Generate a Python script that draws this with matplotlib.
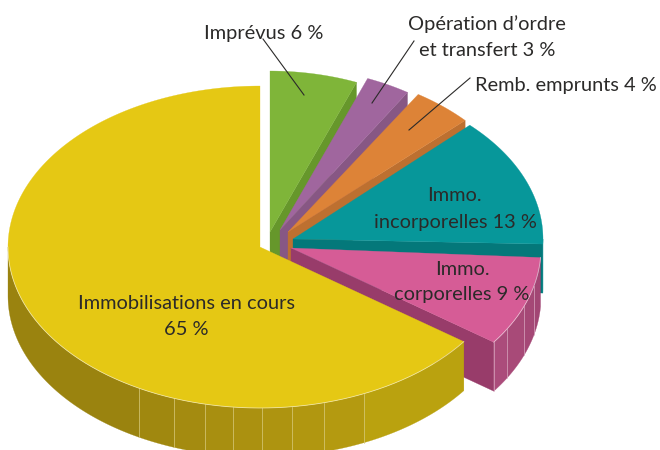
import numpy as np
import matplotlib
matplotlib.use("Agg")
import matplotlib.pyplot as plt
from matplotlib.patches import Polygon

plt.rcParams['font.family'] = ['Lato', 'DejaVu Sans']

# --- data ---
categories = ["Immobilisations en cours", "Immo. corporelles", "Immo. incorporelles",
              "Remb. emprunts", "Opération d'ordre et transfert", "Imprévus"]
values = [65, 9, 13, 4, 3, 6]

# --- geometry of the exploded slices (same order), pixels ---
apex_x = [260, 291, 293, 288, 280, 270]
apex_y = [247, 248, 239, 232, 230, 232]
rad_x = [252, 250, 250, 243, 238, 235]
rad_y = [161, 161, 161, 163, 163, 161]
turn = [0, 0.2, 1.8, 0, 0, 0]
depth = 49
start_angle = 90

top_colors = ["#E5C814", "#D65C96", "#07979A", "#DD8337", "#A0669E", "#7FB539"]
cut_colors = ["#9A830F", "#983C6A", "#04787A", "#BD7030", "#875784", "#66972B"]

# rim facet boundaries, given by their x pixel
yellow_facets_x = [8, 139, 174, 205, 233, 262, 292, 324, 364, 463]
yellow_facet_colors = ["#9A830F", "#A0880F", "#A48B10", "#A88F10", "#AB9110", "#AE9410",
                       "#B19710", "#B49A10", "#BAA20F"]
pink_facets_x = [493, 507, 524, 534, 541]
pink_facet_colors = ["#AB4C7B", "#A84A78", "#A54876", "#A24674"]
teal_rim_color = "#06888A"

fig = plt.figure(figsize=(6.6, 4.5), dpi=100)
ax = fig.add_axes([0, 0, 1, 1])
ax.set_xlim(0, 660)
ax.set_ylim(450, 0)
ax.axis("off")

fractions = np.array(values) / np.sum(values) * 360
ends = start_angle + np.cumsum(fractions)
starts = ends - fractions


def rim_xy(i, t):
    t = np.radians(t)
    return apex_x[i] + rad_x[i] * np.cos(t), apex_y[i] - rad_y[i] * np.sin(t)


def x_to_angle(i, x):
    c = np.clip((x - apex_x[i]) / rad_x[i], -1, 1)
    return 360 - np.degrees(np.arccos(c))


def band(i, a0, a1, color, z):
    t = np.linspace(a0, a1, 60)
    x, y = rim_xy(i, t)
    pts = np.r_[np.c_[x, y], np.c_[x[::-1], y[::-1] + depth]]
    ax.add_patch(Polygon(pts, closed=True, fc=color, ec=color, lw=0.2, zorder=z))


# painter's order: back slices first, yellow last
for z, i in enumerate([5, 4, 3, 2, 1, 0]):
    base = 10 * (z + 1)
    a0 = starts[i] + turn[i]
    a1 = ends[i] + turn[i]

    # cut face on the clockwise side
    if i != 0:
        px, py = rim_xy(i, a0)
        cut = [(apex_x[i], apex_y[i]), (px, py), (px, py + depth),
               (apex_x[i], apex_y[i] + depth)]
        ax.add_patch(Polygon(cut, closed=True, fc=cut_colors[i], ec=cut_colors[i],
                             lw=0.2, zorder=base))
    # outer rim, visible on the front half
    if i == 0:
        edges = [x_to_angle(0, v) for v in yellow_facets_x]
        edges[0], edges[-1] = 180, a1
        for k, col in enumerate(yellow_facet_colors):
            band(0, edges[k], edges[k + 1], col, base + 1)
        for e in edges[1:-1]:
            ex, ey = rim_xy(0, e)
            ax.plot([ex, ex], [ey, ey + depth], color="#D8CB80", lw=0.5, zorder=base + 2)
    elif i == 1:
        edges = [x_to_angle(1, v) for v in pink_facets_x]
        edges[0], edges[-1] = a0, a1
        for k, col in enumerate(pink_facet_colors):
            band(1, edges[k], edges[k + 1], col, base + 1)
        for e in edges[:-1]:
            ex, ey = rim_xy(1, e)
            ax.plot([ex, ex], [ey, ey + depth], color="#D9A9C1", lw=0.5, zorder=base + 2)
    elif i == 2:
        band(2, a0, 360, teal_rim_color, base + 1)

    # top surface
    t = np.linspace(a0, a1, 240)
    x, y = rim_xy(i, t)
    pts = np.r_[[(apex_x[i], apex_y[i])], np.c_[x, y]]
    ax.add_patch(Polygon(pts, closed=True, fc=top_colors[i], ec=top_colors[i],
                         lw=0.2, zorder=base + 3))
    # thin highlight along the front rim
    if i in (0, 1):
        tf = np.linspace(max(a0, 180), a1, 200)
        fx, fy = rim_xy(i, tf)
        ax.plot(fx, fy, color="white", alpha=0.55, lw=0.6, zorder=base + 4)

# --- labels ---
ink = "#2B2A29"
label_lines = ["Imprévus 6 %", "Opération d’ordre", "et transfert 3 %", "Remb. emprunts 4 %",
               "Immo.", "incorporelles 13 %", "Immo.", "corporelles 9 %",
               "Immobilisations en cours", "65 %"]
label_x = [263.5, 487, 487.5, 565.5, 454.5, 455, 462.5, 462, 187, 186]
label_y = [33.5, 24.5, 50.5, 85.5, 195.5, 222.5, 269.5, 294.5, 303.5, 329.5]
for s, lx, ly in zip(label_lines, label_x, label_y):
    ax.text(lx, ly, s, ha="center", va="center", fontsize=14.4, color=ink, zorder=200)

leader_from = [(263, 39), (414, 41), (470, 78)]
leader_to = [(304, 95), (372, 103), (409, 130)]
for (x0, y0), (x1, y1) in zip(leader_from, leader_to):
    ax.plot([x0, x1], [y0, y1], color="#2B2A29", lw=0.8, zorder=190)

fig.savefig("out.png", dpi=100)
